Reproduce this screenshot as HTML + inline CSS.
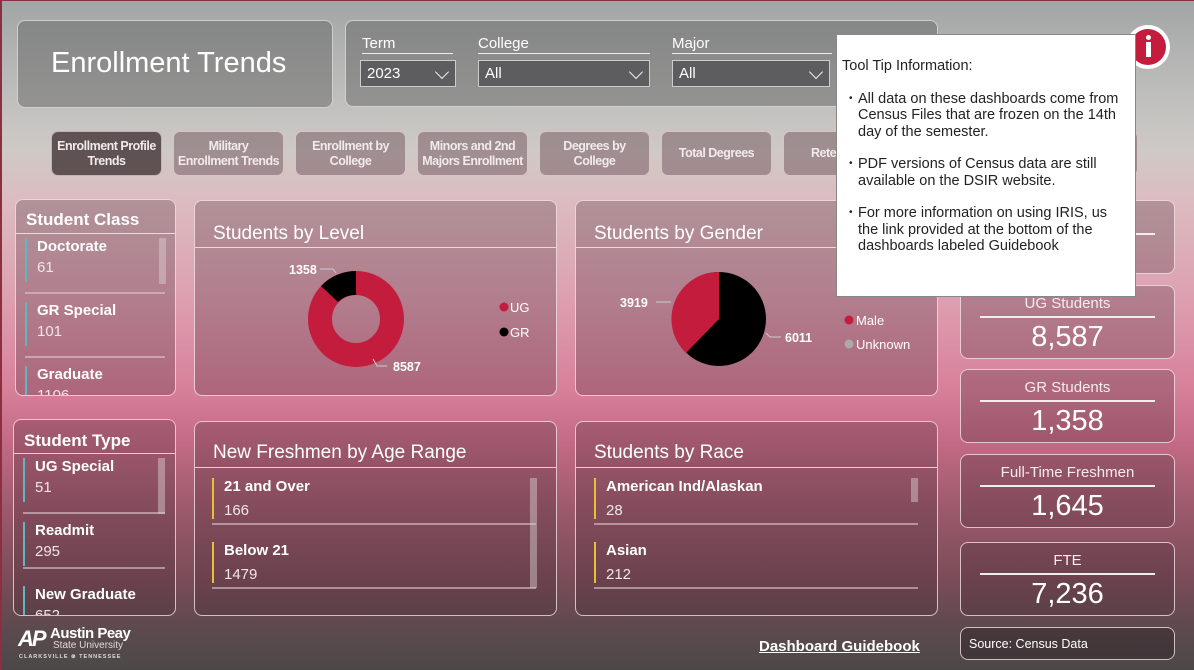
<!DOCTYPE html>
<html><head><meta charset="utf-8"><style>
*{box-sizing:border-box;margin:0;padding:0}
body{width:1194px;height:670px;overflow:hidden;font-family:"Liberation Sans",sans-serif;color:#fff;position:relative;
background:linear-gradient(180deg,#a2a5a5 0px,#bdbdbb 90px,#cfc9c6 150px,#dcbcc0 200px,#dd9fb0 300px,#d7809a 390px,#c46b86 440px,#9c5a6c 510px,#7a4c58 580px,#5c4a4e 630px,#4c4848 670px)}
.a{position:absolute}
.p{position:absolute;border:1.5px solid rgba(255,235,240,.75);border-radius:8px;background:rgba(70,40,50,.28)}
.g{background:rgba(90,90,92,.45);border-color:rgba(235,235,235,.7)}
.btn{position:absolute;top:131px;width:111px;height:45px;border:1.5px solid rgba(240,220,225,.7);border-radius:7px;background:rgba(120,95,100,.55);font-weight:bold;font-size:12.5px;letter-spacing:-.5px;white-space:nowrap;text-align:center;display:flex;align-items:center;justify-content:center;line-height:15px;color:#f2eaec}
.lbl{position:absolute;font-size:15px;color:#fff;border-bottom:1.5px solid #eee;padding-bottom:1px}
.dd{position:absolute;top:60px;height:27px;border:1.5px solid #ccc;background:#5d5d5f;font-size:15px;padding:4px 0 0 6px}
.chev{position:absolute;right:8px;top:6px;width:10px;height:10px;border-right:1.5px solid #eee;border-bottom:1.5px solid #eee;transform:rotate(45deg)}
.ph{position:absolute;left:0;right:0;border-bottom:1.5px solid rgba(255,235,240,.8)}
.it{position:absolute;border-left:2.5px solid #5fb8c0;padding-left:10px}
.it b{display:block;font-size:15px}
.it span{display:block;font-size:15px;margin-top:4px;color:#f0e6ea}
.sep{position:absolute;height:1.5px;background:rgba(220,200,205,.6)}
.sb{position:absolute;width:7px;background:rgba(220,210,212,.45)}
.k .t{position:absolute;left:0;right:0;text-align:center;font-size:15px;color:#f4ecee}
.k .l{position:absolute;left:19px;right:19px;height:1.5px;background:#eee}
.k .v{position:absolute;left:0;right:0;text-align:center;font-size:29px}
.tt{position:absolute;left:836px;top:34px;width:300px;height:263px;background:#fff;border:1px solid #888;color:#222;font-size:14.5px;line-height:16.5px}
.tt ul{padding-right:10px}
.tt li{list-style:none;position:relative;padding-left:21px;margin-top:16px}
.tt li:before{content:"•";position:absolute;left:12px;font-size:10px}
</style></head><body>
<div class="a" style="left:0;top:0;width:1194px;height:670px;border-left:2px solid #8a3040;border-top:1px solid #8a3040"></div>

<div class="p g" style="left:17px;top:20px;width:316px;height:88px"><div class="a" style="left:33px;top:26px;font-size:29px">Enrollment Trends</div></div>
<div class="p g" style="left:345px;top:20px;width:593px;height:87px"></div>
<div class="lbl" style="left:362px;top:35px;width:91px">Term</div>
<div class="lbl" style="left:478px;top:35px;width:172px">College</div>
<div class="lbl" style="left:672px;top:35px;width:160px">Major</div>
<div class="dd" style="left:360px;width:96px">2023<div class="chev"></div></div>
<div class="dd" style="left:478px;width:172px">All<div class="chev"></div></div>
<div class="dd" style="left:672px;width:158px">All<div class="chev"></div></div>

<div class="btn" style="left:51px;background:#5f5253">Enrollment Profile<br>Trends</div>
<div class="btn" style="left:173px">Military<br>Enrollment Trends</div>
<div class="btn" style="left:295px">Enrollment by<br>College</div>
<div class="btn" style="left:417px">Minors and 2nd<br>Majors Enrollment</div>
<div class="btn" style="left:539px">Degrees by<br>College</div>
<div class="btn" style="left:661px">Total Degrees</div>
<div class="btn" style="left:783px;justify-content:flex-start;padding-left:27px">Retention</div>
<div class="btn" style="left:1027px"></div>

<!-- Student Class -->
<div class="p" style="left:15px;top:199px;width:161px;height:197px;overflow:hidden">
 <div class="a" style="left:10px;top:10px;font-size:17px;font-weight:bold">Student Class</div>
 <div class="ph" style="top:33px"></div>
 <div class="sb" style="left:143px;top:38px;height:46px"></div>
 <div class="it" style="left:9px;top:38px;height:44px"><b>Doctorate</b><span>61</span></div>
 <div class="sep" style="left:9px;top:92px;width:140px"></div>
 <div class="it" style="left:9px;top:102px;height:44px"><b>GR Special</b><span>101</span></div>
 <div class="sep" style="left:9px;top:156px;width:140px"></div>
 <div class="it" style="left:9px;top:166px;height:44px"><b>Graduate</b><span>1106</span></div>
</div>

<!-- Students by Level -->
<div class="p" style="left:194px;top:200px;width:363px;height:196px">
 <div class="a" style="left:18px;top:22px;font-size:19px">Students by Level</div>
 <div class="ph" style="top:46px"></div>
 <svg class="a" style="left:0;top:0" width="363" height="196">
  <circle cx="161" cy="118" r="36" fill="none" stroke="#c41c3c" stroke-width="24"/>
  <path d="M161 70 A48 48 0 0 0 126 85 L143 101 A24 24 0 0 1 161 94 Z" fill="#000"/>
  <polyline points="125,68 138,68 141,72" fill="none" stroke="#ccc" stroke-width="1"/>
  <polyline points="178,158 182,165 192,165" fill="none" stroke="#ccc" stroke-width="1"/>
  <text x="94" y="73" font-size="12.5" font-weight="bold" fill="#fff" font-family="Liberation Sans">1358</text>
  <text x="198" y="170" font-size="12.5" font-weight="bold" fill="#fff" font-family="Liberation Sans">8587</text>
  <circle cx="309" cy="106" r="4.5" fill="#c41c3c"/><text x="315" y="111" font-size="13" fill="#fff" font-family="Liberation Sans">UG</text>
  <circle cx="309" cy="131" r="4.5" fill="#000"/><text x="315" y="136" font-size="13" fill="#fff" font-family="Liberation Sans">GR</text>
 </svg>
</div>

<!-- Students by Gender -->
<div class="p" style="left:575px;top:200px;width:363px;height:196px">
 <div class="a" style="left:18px;top:22px;font-size:19px">Students by Gender</div>
 <div class="ph" style="top:46px"></div>
 <svg class="a" style="left:0;top:0" width="363" height="196">
  <circle cx="143" cy="118" r="47" fill="#000"/>
  <path d="M143 118 L143 71 A47 47 0 0 0 110 152 Z" fill="#c41c3c"/>
  <polyline points="80,101 95,101" fill="none" stroke="#ccc" stroke-width="1"/>
  <polyline points="190,132 194,136 205,136" fill="none" stroke="#ccc" stroke-width="1"/>
  <text x="44" y="106" font-size="12.5" font-weight="bold" fill="#fff" font-family="Liberation Sans">3919</text>
  <text x="209" y="141" font-size="12.5" font-weight="bold" fill="#fff" font-family="Liberation Sans">6011</text>
  <circle cx="273" cy="119" r="4.5" fill="#c41c3c"/><text x="280" y="124" font-size="13" fill="#fff" font-family="Liberation Sans">Male</text>
  <circle cx="273" cy="143" r="4.5" fill="#aaa"/><text x="280" y="148" font-size="13" fill="#fff" font-family="Liberation Sans">Unknown</text>
 </svg>
</div>

<!-- Student Type -->
<div class="p" style="left:13px;top:419px;width:163px;height:197px;overflow:hidden">
 <div class="a" style="left:10px;top:11px;font-size:17px;font-weight:bold">Student Type</div>
 <div class="ph" style="top:33px"></div>
 <div class="sb" style="left:144px;top:38px;height:56px"></div>
 <div class="it" style="left:9px;top:38px;height:44px"><b>UG Special</b><span>51</span></div>
 <div class="sep" style="left:9px;top:92px;width:142px"></div>
 <div class="it" style="left:9px;top:102px;height:44px"><b>Readmit</b><span>295</span></div>
 <div class="sep" style="left:9px;top:147px;width:142px"></div>
 <div class="it" style="left:9px;top:166px;height:44px"><b>New Graduate</b><span>652</span></div>
</div>

<!-- New Freshmen -->
<div class="p" style="left:194px;top:421px;width:363px;height:195px">
 <div class="a" style="left:18px;top:20px;font-size:19px">New Freshmen by Age Range</div>
 <div class="ph" style="top:45px"></div>
 <div class="sb" style="left:335px;top:56px;height:110px"></div>
 <div class="it" style="left:17px;top:56px;height:41px;border-color:#e8c030"><b>21 and Over</b><span style="margin-top:7px">166</span></div>
 <div class="sep" style="left:17px;top:101px;width:324px"></div>
 <div class="it" style="left:17px;top:120px;height:41px;border-color:#e8c030"><b>Below 21</b><span style="margin-top:7px">1479</span></div>
 <div class="sep" style="left:17px;top:165px;width:324px"></div>
</div>

<!-- Race -->
<div class="p" style="left:575px;top:421px;width:363px;height:195px">
 <div class="a" style="left:18px;top:20px;font-size:19px">Students by Race</div>
 <div class="ph" style="top:45px"></div>
 <div class="sb" style="left:335px;top:56px;height:24px"></div>
 <div class="it" style="left:18px;top:56px;height:41px;border-color:#e8c030"><b>American Ind/Alaskan</b><span style="margin-top:7px">28</span></div>
 <div class="sep" style="left:18px;top:101px;width:324px"></div>
 <div class="it" style="left:18px;top:120px;height:41px;border-color:#e8c030"><b>Asian</b><span style="margin-top:7px">212</span></div>
 <div class="sep" style="left:18px;top:165px;width:324px"></div>
</div>

<!-- KPIs -->
<div class="p k" style="left:960px;top:200px;width:215px;height:74px"><div class="l" style="top:32px"></div></div>
<div class="p k" style="left:960px;top:285px;width:215px;height:74px"><div class="t" style="top:9px">UG Students</div><div class="l" style="top:30px"></div><div class="v" style="top:35px">8,587</div></div>
<div class="p k" style="left:960px;top:369px;width:215px;height:74px"><div class="t" style="top:9px">GR Students</div><div class="l" style="top:30px"></div><div class="v" style="top:35px">1,358</div></div>
<div class="p k" style="left:960px;top:454px;width:215px;height:74px"><div class="t" style="top:9px">Full-Time Freshmen</div><div class="l" style="top:30px"></div><div class="v" style="top:35px">1,645</div></div>
<div class="p k" style="left:960px;top:542px;width:215px;height:74px"><div class="t" style="top:9px">FTE</div><div class="l" style="top:30px"></div><div class="v" style="top:35px">7,236</div></div>
<div class="p" style="left:960px;top:627px;width:215px;height:33px;background:rgba(40,30,32,.4)"><div class="a" style="left:8px;top:9px;font-size:12.5px">Source: Census Data</div></div>

<div class="a" style="left:759px;top:638px;font-size:15px;font-weight:bold;text-decoration:underline">Dashboard Guidebook</div>

<!-- logo -->
<div class="a" style="left:18px;top:626px;font-size:22px;font-weight:bold;font-style:italic;letter-spacing:-2px">AP</div>
<div class="a" style="left:50px;top:625px;font-size:15px;font-weight:bold;letter-spacing:-.5px">Austin Peay</div>
<div class="a" style="left:53px;top:640px;font-size:10px;color:#ddd">State University</div>
<div class="a" style="left:19px;top:654px;font-size:5.5px;font-weight:bold;letter-spacing:1px;color:#ddd">CLARKSVILLE ⊛ TENNESSEE</div>

<!-- info icon -->
<div class="a" style="left:1126px;top:25px;width:44px;height:44px;border-radius:50%;background:#fff"></div>
<div class="a" style="left:1130px;top:29px;width:36px;height:36px;border-radius:50%;background:#c41c3c"></div>
<div class="a" style="left:1146px;top:35px;width:5px;height:5px;background:#fff;border-radius:50%"></div>
<div class="a" style="left:1146px;top:42px;width:5px;height:15px;background:#fff"></div>

<!-- tooltip -->
<div class="tt">
 <div style="margin:23px 0 0 5px">Tool Tip Information:</div>
 <ul style="margin-top:0">
  <li style="margin-top:16px">All data on these dashboards come from Census Files that are frozen on the 14th day of the semester.</li>
  <li>PDF versions of Census data are still available on the DSIR website.</li>
  <li>For more information on using IRIS, us the link provided at the bottom of the dashboards labeled Guidebook</li>
 </ul>
</div>
</body></html>
